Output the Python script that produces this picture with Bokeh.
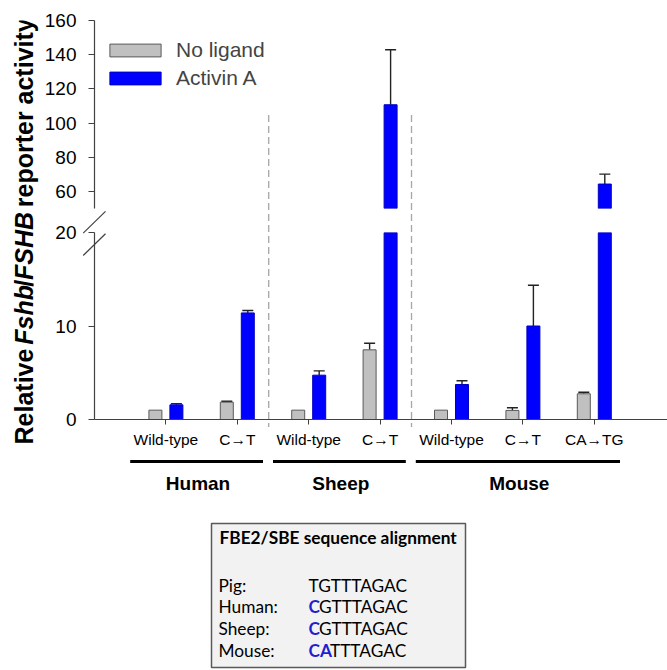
import numpy as np
from bokeh.plotting import figure
from bokeh.models import (Range1d, FixedTicker, Whisker, TeeHead, ColumnDataSource,
                          Legend, LegendItem, CDSView, BooleanFilter, GridBox)
from bokeh.embed import file_html
from bokeh.resources import INLINE
from bokeh.core.properties import value

# ---------------- data ----------------
categories = ["Wild-type", "C\u2192T", "Wild-type", "C\u2192T", "Wild-type", "C\u2192T", "CA\u2192TG"]
species = ["Human", "Sheep", "Mouse"]
species_of_cat = ["Human", "Human", "Sheep", "Sheep", "Mouse", "Mouse", "Mouse"]
no_ligand = [1.0, 1.85, 1.0, 7.45, 1.0, 0.97, 2.75]
no_ligand_err = [0.0, 0.10, 0.0, 0.70, 0.0, 0.28, 0.17]
activin_a = [1.57, 11.4, 4.74, 110.7, 3.74, 10.0, 64.3]
activin_a_err = [0.13, 0.25, 0.46, 32.2, 0.40, 4.36, 5.8]
lower_ticks = [0, 10, 20]
upper_ticks = [60, 80, 100, 120, 140, 160]
series_names = ["No ligand", "Activin A"]
align_title = "FBE2/SBE sequence alignment"
align_species = ["Pig:", "Human:", "Sheep:", "Mouse:"]
align_highlight = ["", "C", "C", "CA"]
align_rest = ["TGTTTAGAC", "GTTTAGAC", "GTTTAGAC", "TTTAGAC"]

# ---------------- style / layout ----------------
FONT = "Liberation Sans"
BOXFONT = "Lato"
GRAY, GRAY_LINE = "#C0C0C0", "#5A5A5A"
BLUE, BLUE_LINE = "#0000FF", "#0000C0"
AXIS_COL = "#404040"
SEP_COL = "#A6A6A6"
TOTAL_W, TOTAL_H = 667, 670
LABEL_W = 40
LEFT = 54
FRAME_X0 = LABEL_W + LEFT
PX_PER_CAT = 71.4
FRAME_W = TOTAL_W - FRAME_X0
OFFSET, BAR_W = 0.147, 0.182
LOW_RANGE = (0, 20)
UP_RANGE = (50, 160)
H_A, H_B = 220, 235
H_C = TOTAL_H - H_A - H_B

xr = Range1d(-1.0, -1.0 + FRAME_W / PX_PER_CAT)
idx = np.arange(len(categories))
xg = idx - OFFSET
xb = idx + OFFSET


def cat_to_px(x):
    return FRAME_X0 + (x - xr.start) * PX_PER_CAT


def style_yaxis(p, ticks):
    ax = p.yaxis[0]
    ax.ticker = FixedTicker(ticks=ticks)
    ax.major_tick_out = 6
    ax.major_tick_in = 0
    ax.minor_tick_out = 0
    ax.minor_tick_in = 0
    ax.axis_line_color = AXIS_COL
    ax.major_tick_line_color = AXIS_COL
    ax.axis_line_width = 1.2
    ax.major_tick_line_width = 1.2
    ax.major_label_text_font = FONT
    ax.major_label_text_font_size = "19px"
    ax.major_label_text_color = "black"
    ax.major_label_standoff = 12


def make_panel(height, yr, top, bottom, with_xaxis):
    p = figure(width=LEFT + FRAME_W, height=height, x_range=xr, y_range=Range1d(*yr),
               output_backend="svg", toolbar_location=None,
               min_border_left=LEFT, min_border_right=0,
               min_border_top=top, min_border_bottom=bottom,
               x_axis_location="below" if with_xaxis else None, y_axis_location="left")
    p.outline_line_color = None
    p.grid.visible = False
    return p


def bars(p, lo):
    out = []
    for xs, vs, fc, lc in ((xg, no_ligand, GRAY, GRAY_LINE), (xb, activin_a, BLUE, BLUE_LINE)):
        shown = [v > lo for v in vs]
        src = ColumnDataSource(dict(x=list(xs), top=list(vs)))
        kw = dict(view=CDSView(filter=BooleanFilter(shown))) if any(shown) else {}
        r = p.vbar(x="x", top="top", bottom=0, width=BAR_W, source=src,
                   fill_color=fc, line_color=lc, line_width=1, **kw)
        # a series with no bar reaching this panel is kept only for the legend swatch
        r.visible = any(shown)
        out.append(r)
    return out


def whiskers(p, lo, hi):
    base, lower, upper = [], [], []
    for xs, vs, es in ((xg, no_ligand, no_ligand_err), (xb, activin_a, activin_a_err)):
        for x, v, e in zip(xs, vs, es):
            if e > 0 and lo <= v <= hi:
                base.append(x); lower.append(v); upper.append(v + e)
    src = ColumnDataSource(dict(base=base, lower=lower, upper=upper))
    w = Whisker(source=src, base="base", lower="lower", upper="upper", dimension="height",
                lower_head=None,
                upper_head=TeeHead(size=11, line_color="#222222", line_width=1.4),
                line_color="#222222", line_width=1.4)
    p.add_layout(w)


# group separators and underline spans, derived from the group membership
group_first = [species_of_cat.index(s) for s in species]
group_last = [len(species_of_cat) - 1 - species_of_cat[::-1].index(s) for s in species]
seps = [group_last[i] + 0.44 for i in range(len(species) - 1)]
line_start = [f - 0.5 for f in group_first]
line_end = [l + 0.36 for l in group_last]
group_mid = [(f + l) / 2 - 0.05 for f, l in zip(group_first, group_last)]

# ---------------- upper panel (50-160) ----------------
pA = make_panel(H_A, UP_RANGE, 20, 12, False)
style_yaxis(pA, upper_ticks)
rgA, rbA = bars(pA, UP_RANGE[0])
whiskers(pA, *UP_RANGE)
legend = Legend(items=[LegendItem(label=series_names[0], renderers=[rgA]),
                       LegendItem(label=series_names[1], renderers=[rbA])],
                location=(9, 118), padding=0, margin=0, spacing=4,
                glyph_width=64, glyph_height=16, label_standoff=9,
                label_text_font=FONT, label_text_font_size="21px",
                border_line_color=None, background_fill_alpha=0,
                inactive_fill_alpha=0, click_policy="none")
pA.add_layout(legend)

# ---------------- lower panel (0-20) ----------------
pB = make_panel(H_B, LOW_RANGE, 12, 36, True)
style_yaxis(pB, lower_ticks)
bars(pB, -1)
whiskers(pB, *LOW_RANGE)
xa = pB.xaxis[0]
xa.ticker = FixedTicker(ticks=list(idx))
xa.major_label_overrides = {int(i): c for i, c in zip(idx, categories)}
xa.major_tick_out = 5
xa.major_tick_in = 0
xa.minor_tick_out = 0
xa.minor_tick_in = 0
xa.axis_line_color = AXIS_COL
xa.major_tick_line_color = AXIS_COL
xa.axis_line_width = 1.2
xa.major_label_text_font = FONT
xa.major_label_text_font_size = "15.5px"
xa.major_label_text_color = "black"
xa.major_label_standoff = 6

# ---------------- bottom panel: group labels + alignment box ----------------
top_C = H_A + H_B
pC = figure(width=LEFT + FRAME_W, height=H_C, x_range=xr, y_range=Range1d(TOTAL_H, top_C),
            output_backend="svg", toolbar_location=None,
            min_border_left=LEFT, min_border_right=0, min_border_top=0, min_border_bottom=0,
            x_axis_location=None, y_axis_location=None)
pC.outline_line_color = None
pC.grid.visible = False
pC.extra_x_ranges = {"px": Range1d(FRAME_X0, TOTAL_W)}
n = len(species)
pC.segment(x0=line_start, x1=line_end, y0=[461] * n, y1=[461] * n, line_width=3,
           line_color="black")
pC.text(x=group_mid, y=[483] * n, text=species,
        text_font=value(FONT), text_font_size="19px", text_font_style="bold",
        text_align="center", text_baseline="middle", text_color="black")
pC.quad(left=211, right=465, top=523, bottom=667, x_range_name="px",
        fill_color="#F2F2F2", line_color="#595959", line_width=1.5)
BFS = 17.3
pC.text(x=[219], y=[537], text=[align_title], x_range_name="px",
        text_font=value(BOXFONT), text_font_size=f"{BFS}px", text_font_style="bold",
        text_align="left", text_baseline="middle", text_color="black")
row_y = [585, 606, 628, 650]
pC.text(x=[218] * 4, y=row_y, text=align_species, x_range_name="px",
        text_font=value(BOXFONT), text_font_size=f"{BFS}px",
        text_align="left", text_baseline="middle", text_color="black")
em = {"C": 0.60, "A": 0.64}
hl_w = [sum(em.get(ch, 0.6) for ch in h) * BFS for h in align_highlight]
pC.text(x=[308] * 4, y=row_y, text=align_highlight, x_range_name="px",
        text_font=value(BOXFONT), text_font_size=f"{BFS}px", text_font_style="bold",
        text_align="left", text_baseline="middle", text_color="#1F1FD0")
pC.text(x=[308 + w for w in hl_w], y=row_y, text=align_rest, x_range_name="px",
        text_font=value(BOXFONT), text_font_size=f"{BFS}px",
        text_align="left", text_baseline="middle", text_color="black")

# ---------------- rotated y-axis title ----------------
pL = figure(width=LABEL_W, height=TOTAL_H, x_range=Range1d(0, LABEL_W),
            y_range=Range1d(0, TOTAL_H),
            output_backend="svg", toolbar_location=None, min_border=0,
            x_axis_location=None, y_axis_location=None)
pL.outline_line_color = None
pL.grid.visible = False
# Arial/Liberation Sans Bold advance widths (1/1000 em)
W = {"R": 722, "e": 556, "l": 278, "a": 556, "t": 333, "i": 278, "v": 556, "F": 611, "s": 556,
     "h": 611, "b": 611, "/": 278, "S": 667, "H": 722, "B": 722, "r": 389, "p": 611, "o": 611,
     "c": 556, "y": 556, " ": 278}
segments = [("Relative ", False), ("Fshb", True), ("/", False), ("FSHB", True),
            (" reporter activity", False)]
fs = 25
cur = TOTAL_H - 437
pos = []
for txt, it in segments:
    lead = len(txt) - len(txt.lstrip(" "))
    pos.append((cur + lead * W[" "] * fs / 1000, txt.strip(), it))
    cur += sum(W[c] for c in txt) * fs / 1000
for italic in (False, True):
    sel = [q for q in pos if q[2] == italic]
    pL.text(x=[23.5] * len(sel), y=[q[0] for q in sel], text=[q[1] for q in sel],
            angle=np.pi / 2, text_font=value(FONT), text_font_size=f"{fs}px",
            text_font_style="bold italic" if italic else "bold",
            text_align="left", text_baseline="alphabetic", text_color="black")

# ---------------- transparent overlay: axis-break marks and group separators ----------------
pO = figure(width=TOTAL_W, height=TOTAL_H, x_range=Range1d(0, TOTAL_W),
            y_range=Range1d(TOTAL_H, 0), output_backend="svg", toolbar_location=None,
            min_border=0, x_axis_location=None, y_axis_location=None,
            background_fill_alpha=0, border_fill_alpha=0)
pO.outline_line_color = None
pO.grid.visible = False
up_scale = 188 / (UP_RANGE[1] - UP_RANGE[0])
sep_top = 20 + (UP_RANGE[1] - 114.7) * up_scale
x_axis_y = 20 + 188 + 24 + 187
sep_px = [cat_to_px(s) for s in seps]
pO.segment(x0=sep_px, x1=sep_px, y0=[sep_top] * len(seps), y1=[x_axis_y] * len(seps),
           line_color=SEP_COL, line_width=1.3, line_dash="7 4")
brk_y = [208, 231]
pO.segment(x0=[FRAME_X0 - 11.3] * 2, x1=[FRAME_X0 + 11] * 2,
           y0=[b + 11.2 for b in brk_y], y1=[b - 11.2 for b in brk_y],
           line_color=AXIS_COL, line_width=1.2)

layout = GridBox(children=[(pL, 0, 0, 3, 1), (pA, 0, 1), (pB, 1, 1), (pC, 2, 1),
                           (pO, 0, 0, 3, 2)])
open("out.html", "w").write(file_html(layout, INLINE))
